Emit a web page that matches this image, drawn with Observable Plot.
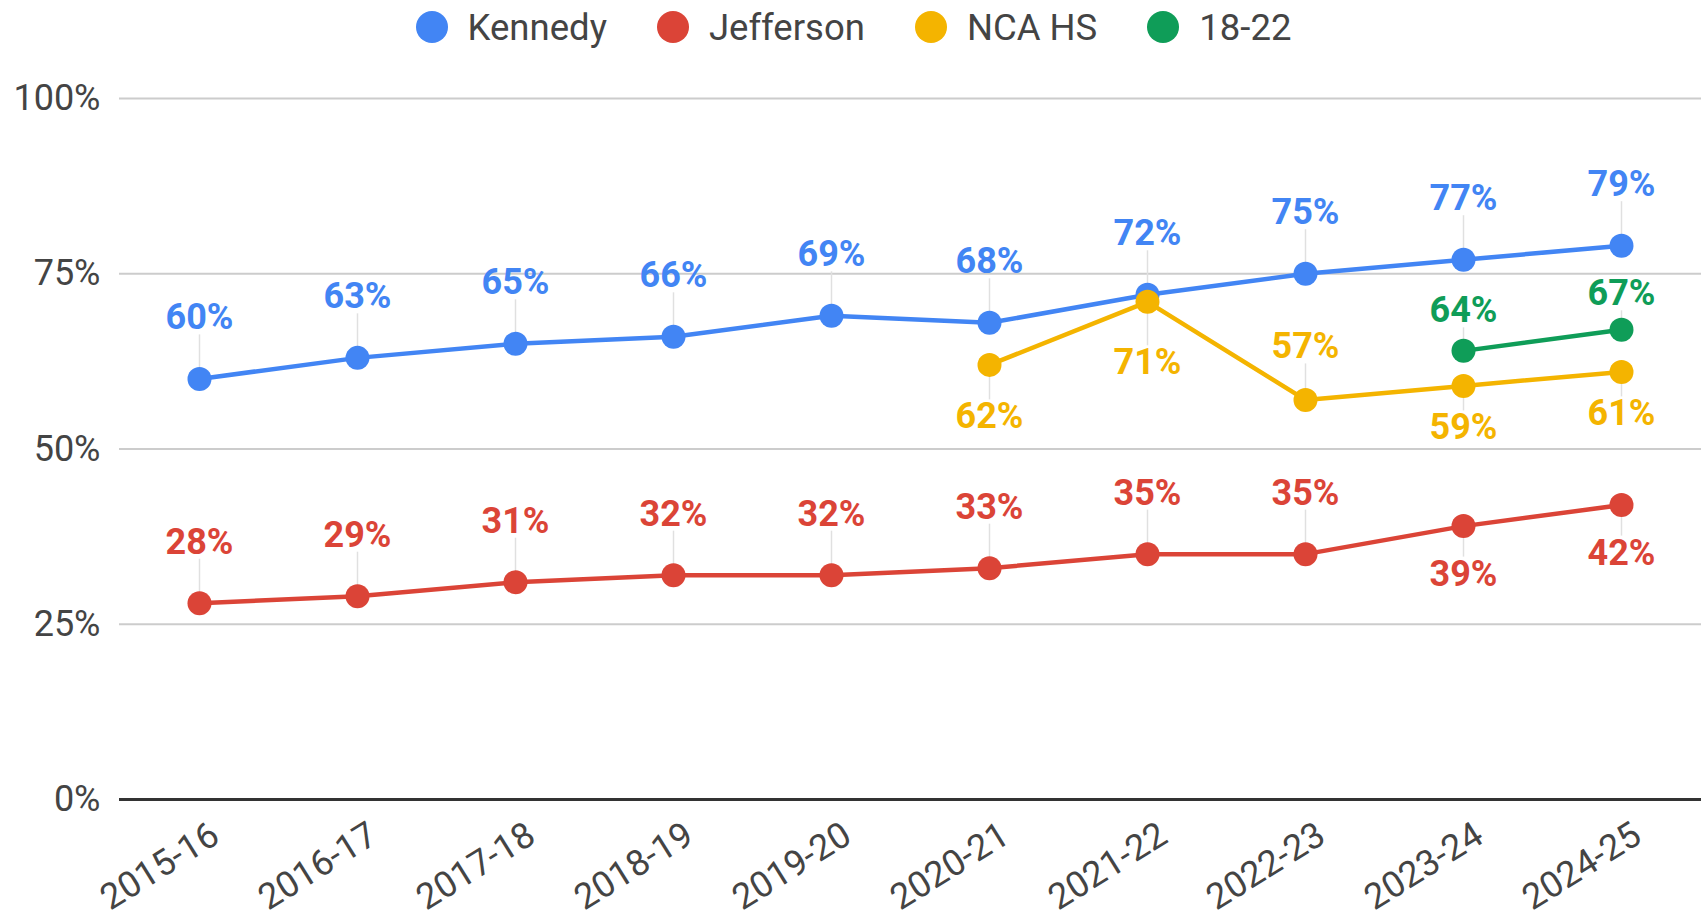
<!DOCTYPE html>
<html>
<head>
<meta charset="utf-8">
<script src="https://cdn.jsdelivr.net/npm/d3@7"></script>
<script src="https://cdn.jsdelivr.net/npm/@observablehq/plot@0.6"></script>
<style>
  html, body { margin: 0; padding: 0; background: #fff; }
  body { width: 1707px; height: 918px; overflow: hidden; font-family: Roboto, "Noto Sans", sans-serif; }
  #legend { height: 54px; display: flex; justify-content: center; align-items: center; gap: 0; font-size: 36.5px; color: #444; }
  .item { display: flex; align-items: center; margin: 0 25px; }
  .sw { width: 32px; height: 32px; border-radius: 50%; margin-right: 20px; }
</style>
</head>
<body>
<div id="legend"></div>
<div id="chart"></div>
<script>
const years = ["2015-16","2016-17","2017-18","2018-19","2019-20","2020-21","2021-22","2022-23","2023-24","2024-25"];
const seriesNames = ["Kennedy","Jefferson","NCA HS","18-22"];
const kennedy   = [60,63,65,66,69,68,72,75,77,79];
const jefferson = [28,29,31,32,32,33,35,35,39,42];
const ncaHS     = [null,null,null,null,null,62,71,57,59,61];
const age1822   = [null,null,null,null,null,null,null,null,64,67];
const yTicks = [0,25,50,75,100];

const colors = ["#4285F4","#DB4437","#F4B400","#0F9D58"];
// label placement (styling: pixels from point to label centre, negative = above)
const labelDy = {
  "Kennedy":   [-61,-61,-61,-61,-61,-61,-61,-61,-61,-61],
  "Jefferson": [-61,-61,-61,-61,-61,-61,-61,-61,48,48],
  "NCA HS":    [0,0,0,0,0,52,61,-53,42,42],
  "18-22":     [0,0,0,0,0,0,0,0,-40,-36]
};

const allValues = [kennedy, jefferson, ncaHS, age1822];
const rows = [];
seriesNames.forEach((s, si) => {
  allValues[si].forEach((v, i) => {
    if (v != null) rows.push({series: s, year: years[i], value: v, dy: labelDy[s][i]});
  });
});

const height = 864, mTop = 44, mBottom = 119;
const pxPerUnit = (height - mTop - mBottom) / 100;
const labelY = d => d.value - d.dy / pxPerUnit;
const leaderEnd = d => d.value - (d.dy + (d.dy < 0 ? 17 : -17)) / pxPerUnit;

// legend
const legend = document.getElementById("legend");
seriesNames.forEach((s, i) => {
  const it = document.createElement("div");
  it.className = "item";
  it.innerHTML = `<span class="sw" style="background:${colors[i]}"></span><span>${s}</span>`;
  legend.appendChild(it);
});

const chart = Plot.plot({
  width: 1707,
  height,
  marginTop: mTop,
  marginBottom: mBottom,
  marginLeft: 119,
  marginRight: 6,
  style: {fontFamily: "Roboto, sans-serif", fontSize: "36px", color: "#444", background: "#fff", overflow: "visible"},
  x: {type: "point", domain: years, padding: 0.5, label: null},
  y: {domain: [0, 100], label: null},
  color: {domain: seriesNames, range: colors},
  marks: [
    Plot.ruleY([25, 50, 75, 100], {stroke: "#cccccc", strokeWidth: 2}),
    Plot.ruleY([0], {stroke: "#333", strokeWidth: 3}),
    Plot.axisY({ticks: yTicks, tickFormat: d => d + "%", tickSize: 0, tickPadding: 19, fontSize: 36, fill: "#444", label: null}),
    Plot.axisX({tickSize: 0, tickRotate: -32, tickPadding: 32, dx: 16, fontSize: 36, fill: "#444", label: null}),
    Plot.ruleX(rows, {x: "year", y1: "value", y2: leaderEnd, stroke: "#e0e0e0", strokeWidth: 1.5}),
    Plot.line(rows, {x: "year", y: "value", z: "series", stroke: "series", strokeWidth: 4.5}),
    Plot.dot(rows, {x: "year", y: "value", fill: "series", r: 12}),
    Plot.text(rows, {x: "year", y: labelY, text: d => d.value + "%", fill: "series", fontWeight: "bold", fontSize: 36})
  ]
});
document.getElementById("chart").appendChild(chart);
</script>
</body>
</html>
